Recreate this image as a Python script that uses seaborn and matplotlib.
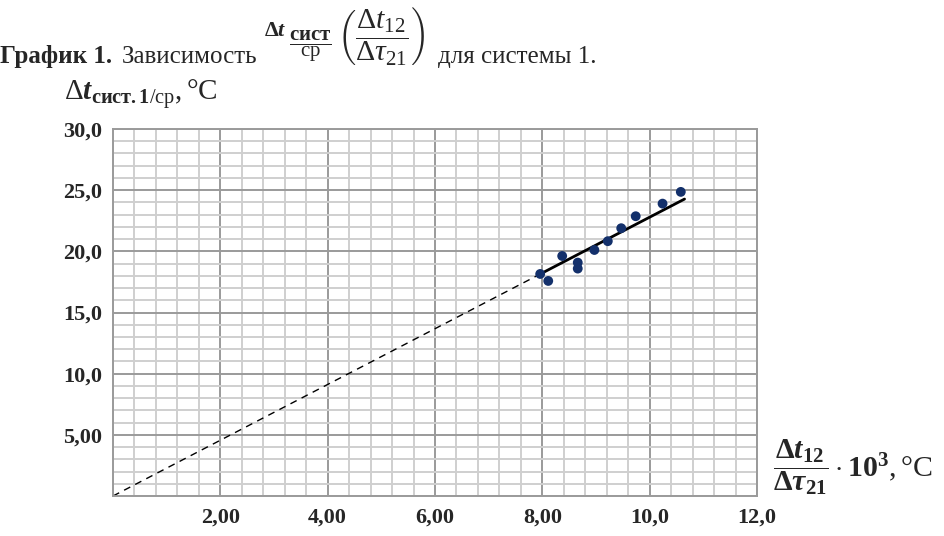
import numpy as np
import pandas as pd
import matplotlib
matplotlib.use("Agg")
import matplotlib.pyplot as plt
import seaborn as sns
from matplotlib.ticker import MultipleLocator, FixedLocator

# данные
ratio_x = [7.96, 8.11, 8.37, 8.66, 8.66, 8.97, 9.22, 9.47, 9.74, 10.24, 10.58]
dt_sys = [18.15, 17.58, 19.62, 19.08, 18.59, 20.11, 20.83, 21.89, 22.87, 23.90, 24.86]

x_ticks = [2, 4, 6, 8, 10, 12]
x_tick_labels = ["2,00", "4,00", "6,00", "8,00", "10,0", "12,0"]
y_ticks = [5, 10, 15, 20, 25, 30]
y_tick_labels = ["5,00", "10,0", "15,0", "20,0", "25,0", "30,0"]

solid_range = [7.95, 10.65]

sns.set_style("white")
plt.rcParams["font.family"] = ["Liberation Serif", "DejaVu Serif"]
plt.rcParams["mathtext.fontset"] = "custom"
plt.rcParams["mathtext.rm"] = "Liberation Serif"
plt.rcParams["mathtext.it"] = "Liberation Serif:italic"
plt.rcParams["mathtext.bf"] = "Liberation Serif:bold"
plt.rcParams["mathtext.bfit"] = "Liberation Serif:italic:bold"

df = pd.DataFrame({"x": ratio_x, "y": dt_sys})

# прямая через начало координат (МНК)
xa = np.array(ratio_x)
ya = np.array(dt_sys)
k = (xa * ya).sum() / (xa * xa).sum()
dash_df = pd.DataFrame({"x": [0, solid_range[0]], "y": [0, k * solid_range[0]]})
solid_df = pd.DataFrame({"x": solid_range, "y": [k * v for v in solid_range]})

W, H = 944, 536
fig = plt.figure(figsize=(W / 100, H / 100), dpi=100)
ax = fig.add_axes([113 / W, 40 / H, 644 / W, 367 / H])

ax.set_xlim(0, 12)
ax.set_ylim(0, 30)
ax.xaxis.set_major_locator(FixedLocator(x_ticks))
ax.yaxis.set_major_locator(FixedLocator(y_ticks))
ax.xaxis.set_minor_locator(MultipleLocator(0.4))
ax.yaxis.set_minor_locator(MultipleLocator(1.0))
ax.grid(which="minor", color="#cfcfcf", lw=1.4)
ax.grid(which="major", color="#9a9a9a", lw=1.4)
ax.set_axisbelow(True)
ax.set_xticklabels(x_tick_labels, fontweight="bold", fontsize=16)
ax.set_yticklabels(y_tick_labels, fontweight="bold", fontsize=16)
ax.tick_params(which="major", length=5, color="#8c8c8c", width=1.3, pad=3)
ax.tick_params(which="minor", length=0)
for s in ax.spines.values():
    s.set_color("#9a9a9a")
    s.set_linewidth(1.4)

sns.lineplot(data=dash_df, x="x", y="y", ax=ax, color="black", lw=1.0,
             linestyle=(0, (5, 4)))
sns.lineplot(data=solid_df, x="x", y="y", ax=ax, color="black", lw=2.0)
sns.scatterplot(data=df, x="x", y="y", ax=ax, color="#13306b", s=50,
                edgecolor="none", zorder=3)
ax.set_xlabel("")
ax.set_ylabel("")


def px(x, y):
    return x / W, 1 - y / H


# заголовок
fig.text(*px(0, 57), "График 1.", fontweight="bold", fontsize=18,
         va="center", ha="left")
fig.text(*px(122, 57), "Зависимость", fontsize=18, va="center", ha="left")
fig.text(*px(264, 32), r"$\mathbf{\Delta}\mathbfit{t}$", fontsize=16,
         va="center", ha="left")
fig.text(*px(289, 46), r"$\dfrac{\mathbf{сист}}{\mathrm{ср}}$", fontsize=15,
         va="center", ha="left")
fig.text(*px(337, 36),
         r"$\left(\dfrac{\Delta t_{12}}{\Delta \tau_{21}}\right)$",
         fontsize=21.5, va="center", ha="left")
fig.text(*px(438, 57), "для системы 1.", fontsize=18, va="center",
         ha="left")

# подписи осей
fig.text(*px(64, 100),
         r"$\Delta\mathbfit{t}_{\mathbf{сист.1}\mathrm{/ср}},\mathrm{°C}$",
         fontsize=21, va="baseline", ha="left")
fig.text(*px(773, 467),
         r"$\mathbf{\dfrac{\Delta \mathbfit{t}_{12}}{\Delta \mathbfit{\tau}_{21}}\cdot 10^{3}},\mathrm{°C}$",
         fontsize=21.5, va="center", ha="left")

fig.savefig("out.png", dpi=100)
